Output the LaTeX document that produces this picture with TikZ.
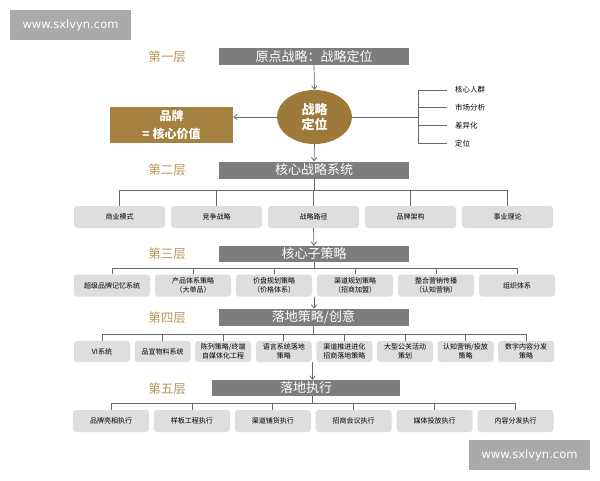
\documentclass[tikz,border=0pt]{standalone}
\usepackage{fontspec}
\setmainfont{Noto Sans CJK SC}
\newfontfamily\wmfont{DejaVu Sans}
\usepackage{tikz}
\usetikzlibrary{positioning, calc, arrows.meta, shapes.geometric}
\definecolor{lvgold}{RGB}{184,150,92}
\definecolor{coregold}{RGB}{158,122,58}
\definecolor{brandgold}{RGB}{165,129,63}
\definecolor{titlegray}{RGB}{125,125,125}
\definecolor{cellgray}{RGB}{222,222,222}
\definecolor{wmgray}{RGB}{170,170,170}
\definecolor{linegray}{RGB}{105,105,105}
\tikzset{
    titlebox/.style={fill=titlegray, text=white, minimum width=190pt, minimum height=17pt, inner sep=0pt, font=\fontsize{13}{13}\selectfont},
    lvtext/.style={text=lvgold, font=\fontsize{12.5}{13}\selectfont},
    cell/.style={fill=cellgray, rounded corners=3pt, minimum height=22pt, inner sep=0pt, align=center, text=black, font=\fontsize{7}{8.5}\selectfont},
    sidetext/.style={anchor=west, inner sep=0pt, text=black, font=\fontsize{7.5}{8}\selectfont},
    wire/.style={draw=linegray, line width=0.7pt},
    arr/.style={wire, -{Straight Barb[length=3.5pt, width=5.5pt]}},
    wmark/.style={fill=wmgray, text=white, minimum width=121pt, minimum height=30pt, inner sep=0pt, font=\wmfont\fontsize{11.5}{12}\selectfont}
}
\begin{document}
\begin{tikzpicture}[x=1pt, y=-1pt]
    \useasboundingbox[fill=white] (0,0) rectangle (600,480);

    \node[wmark] (wmtop) at (70.5,25) {www.sxlvyn.com};
    \node[wmark] (wmbot) at (529.5,455) {www.sxlvyn.com};

    \node[lvtext] (lv1) at (167,57) {第一层};
    \node[lvtext] (lv2) at (167,170) {第二层};
    \node[lvtext] (lv3) at (167,254) {第三层};
    \node[lvtext] (lv4) at (167,318) {第四层};
    \node[lvtext] (lv5) at (167,389) {第五层};

    \node[titlebox] (t1) at (314,56.5) {原点战略：战略定位};
    \node[ellipse, fill=coregold, text=white, minimum width=75pt, minimum height=54pt, inner sep=0pt, align=center, font=\bfseries\fontsize{13}{15}\selectfont] (core) at (314.5,117) {战略\\定位};
    \node[fill=brandgold, text=white, minimum width=123pt, minimum height=36pt, inner sep=0pt, align=center, font=\bfseries\fontsize{12}{18}\selectfont] (brand) at (171.5,125) {品牌\\= 核心价值};

    \draw[arr] (t1.south) -- (core.north);
    \draw[arr] (core.west) -- (core.west -| brand.east);

    \coordinate (br) at (418,117);
    \foreach \lab [count=\i] in {核心人群, 市场分析, 差异化, 定位}
        \node[sidetext] (s\i) at (455,{90+(\i-1)*17.8}) {\lab};
    \draw[wire] (core.east) -- (br);
    \draw[wire] (br |- s1.west) -- (br |- s4.west);
    \foreach \i in {1,...,4}
        \draw[wire] (br |- s\i.west) -- ($(s\i.west)+(-8,0)$);

    \node[titlebox] (t2) at (314,170) {核心战略系统};
    \draw[arr] (core.south) -- (t2.north);

    \foreach \lab [count=\i] in {商业模式, 竞争战略, 战略路径, 品牌架构, 事业理论}
        \node[cell, minimum width=91pt] (r2-\i) at ({119.5+(\i-1)*97},217) {\lab};
    \coordinate (b2) at (0,190);
    \draw[wire] (t2.south) -- (t2.south |- b2);
    \draw[wire] (r2-1.north |- b2) -- (r2-5.north |- b2);
    \foreach \i in {1,...,5}
        \draw[wire] (r2-\i.north |- b2) -- (r2-\i.north);

    \node[titlebox, minimum height=16pt] (t3) at (314,254) {核心子策略};
    \draw[arr] (r2-3.south) -- (t3.north);

    \foreach \lab [count=\i] in {超级品牌记忆系统, 产品体系策略\\（大单品）, 价盘规划策略\\（价格体系）, 渠道规划策略\\（招商加盟）, 整合营销传播\\（认知营销）, 组织体系}
        \node[cell, minimum width=76pt] (r3-\i) at ({112+(\i-1)*81},285.5) {\lab};
    \coordinate (b3) at (0,268);
    \draw[wire] (t3.south) -- (t3.south |- b3);
    \draw[wire] (r3-1.north |- b3) -- (r3-6.north |- b3);
    \foreach \i in {1,...,6}
        \draw[wire] (r3-\i.north |- b3) -- (r3-\i.north);

    \node[titlebox] (t4) at (313.5,317.5) {落地策略/创意};
    \coordinate (g3) at (314,296.5);
    \draw[arr] (g3) -- (g3 |- t4.north);

    \foreach \lab [count=\i] in {VI系统, 品宣物料系统, 陈列策略/终端\\自媒体化工程, 语言系统落地\\策略, 渠道推进进化\\招商落地策略, 大型公关活动\\策划, 认知营销/投放\\策略, 数字内容分发\\策略}
        \node[cell, minimum width=56pt, minimum height=21pt] (r4-\i) at ({102+(\i-1)*60.6},351.5) {\lab};
    \coordinate (b4) at (0,334);
    \draw[wire] (t4.south) -- (t4.south |- b4);
    \draw[wire] (r4-1.north |- b4) -- (r4-8.north |- b4);
    \foreach \i in {1,...,8}
        \draw[wire] (r4-\i.north |- b4) -- (r4-\i.north);

    \node[titlebox, minimum width=188pt, minimum height=16pt] (t5) at (306,388) {落地执行};
    \coordinate (g4) at (312.5,362);
    \draw[arr] (g4) -- (g4 |- t5.north);

    \foreach \lab [count=\i] in {品牌亮相执行, 样板工程执行, 渠道铺货执行, 招商会议执行, 媒体投放执行, 内容分发执行}
        \node[cell, minimum width=76pt] (r5-\i) at ({111+(\i-1)*80.9},421) {\lab};
    \coordinate (b5) at (0,403);
    \draw[wire] (g4 |- t5.south) -- (g4 |- b5);
    \draw[wire] (r5-1.north |- b5) -- (r5-6.north |- b5);
    \foreach \i in {1,...,6}
        \draw[wire] (r5-\i.north |- b5) -- (r5-\i.north);
\end{tikzpicture}
\end{document}
